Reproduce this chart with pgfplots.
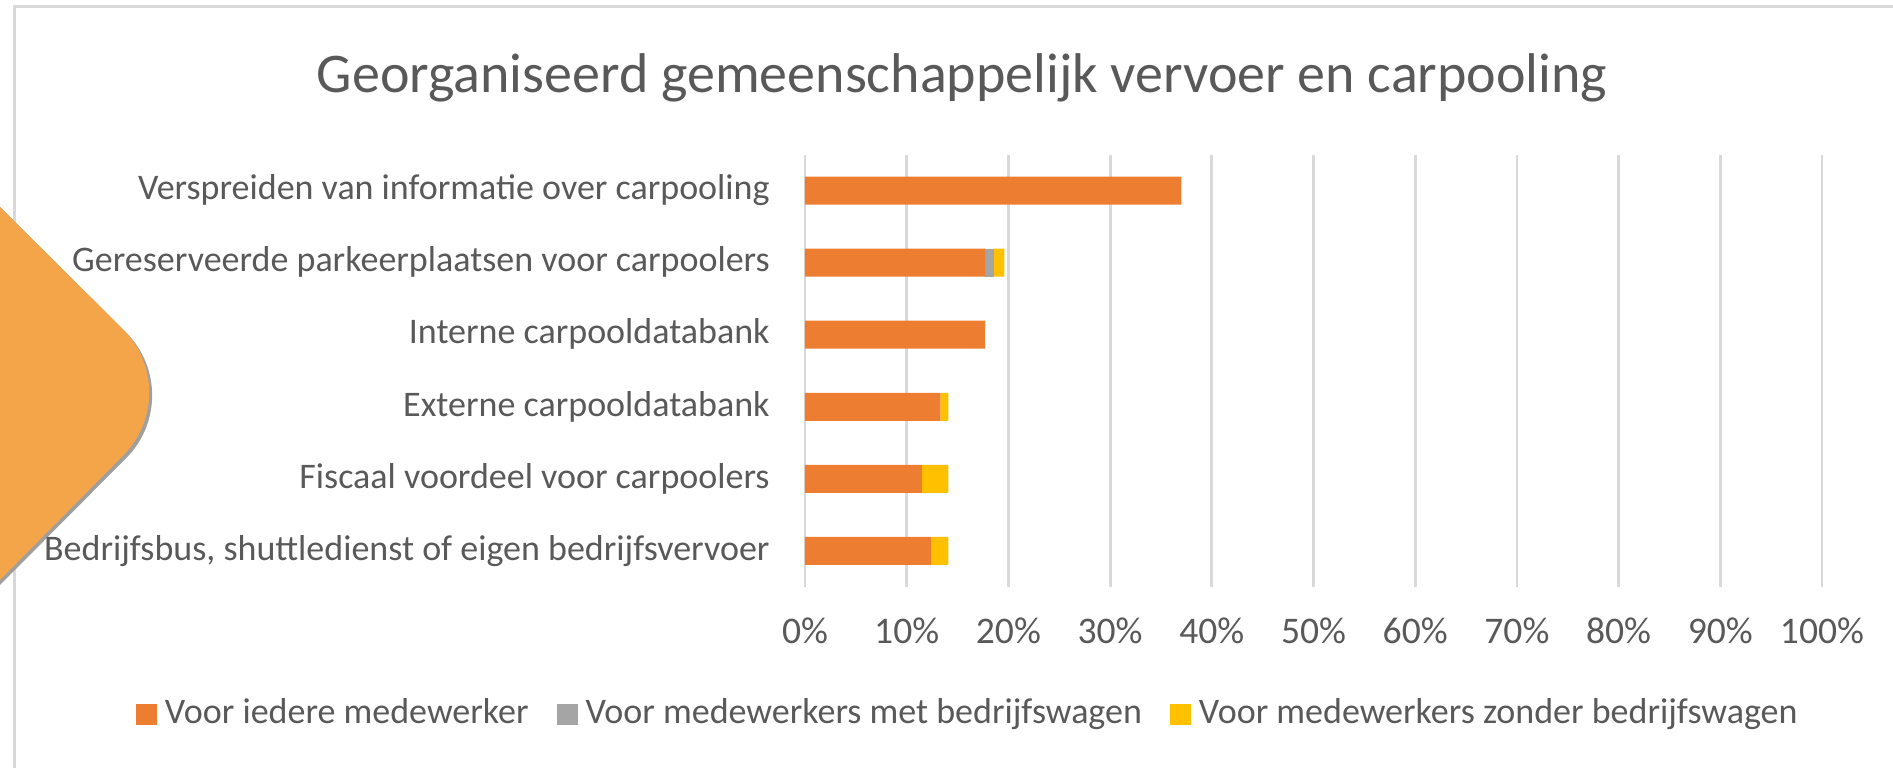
\documentclass[border=0pt]{standalone}
\usepackage{fontspec}
\setmainfont{Carlito}
\usepackage{pgfplots}
\pgfplotsset{compat=1.18}

\definecolor{txt}{HTML}{595959}
\definecolor{gridc}{HTML}{D9D9D9}
\definecolor{s1}{HTML}{ED7D31}
\definecolor{s2}{HTML}{A5A5A5}
\definecolor{s3}{HTML}{FFC000}
\definecolor{blob}{HTML}{F4A54A}

\newcommand{\lab}{\fontsize{18bp}{22bp}\selectfont}

\begin{document}
\begin{tikzpicture}
\useasboundingbox (0,0) rectangle (946.5bp,384bp);
% frame
\draw[gridc, line width=1.5bp] (7.25bp,0) -- (7.25bp,380.75bp) -- (946.5bp,380.75bp);
% decoration shape at the left
\fill[gray!75, rounded corners=44.5bp] (-98.5bp,378.5bp) -- (94.5bp,186.5bp) -- (-98.5bp,-7.5bp) -- cycle;
\fill[blob, rounded corners=44.5bp] (-100bp,380bp) -- (93bp,188bp) -- (-100bp,-7bp) -- cycle;

\node[txt, anchor=base, inner sep=0pt, font=\fontsize{28bp}{32bp}\selectfont] at (481bp,337.6bp)
  {Georganiseerd gemeenschappelijk vervoer en carpooling};

\begin{axis}[
  at={(402.5bp,90.5bp)}, anchor=south west,
  scale only axis, width=508.5bp, height=216.25bp,
  xbar stacked, bar width=14bp,
  xmin=0, xmax=100,
  ymin=-0.5, ymax=5.5, y dir=reverse,
  xtick={0,10,...,100},
  xticklabels={0\%,10\%,20\%,30\%,40\%,50\%,60\%,70\%,80\%,90\%,100\%},
  ytick={0,...,5},
  yticklabels={Verspreiden van informatie over carpooling,
    Gereserveerde parkeerplaatsen voor carpoolers,
    Interne carpooldatabank,
    Externe carpooldatabank,
    Fiscaal voordeel voor carpoolers,
    {Bedrijfsbus, shuttledienst of eigen bedrijfsvervoer}},
  axis line style={draw=none},
  major tick length=0pt,
  xmajorgrids, grid style={gridc, line width=1.4bp},
  xticklabel style={txt, font=\fontsize{18.8bp}{22bp}\selectfont, anchor=base, inner sep=0pt, yshift=-28bp},
  yticklabel style={txt, font=\lab, anchor=base east, inner sep=0pt, xshift=-17.5bp, yshift=-4.6bp},
  legend columns=3,
  legend style={draw=none, at={(0.159,-0.289)}, anchor=center, font=\lab, text=txt,
    /tikz/every odd column/.append style={column sep=4bp},
    /tikz/every even column/.append style={column sep=14bp},
    nodes={inner sep=0pt, anchor=base west}},
  legend image code/.code={\fill[#1] (0bp,-1bp) rectangle (10.5bp,9.5bp);},
]
\addplot[fill=s1, draw=none] coordinates {(37.0,0) (17.7,1) (17.7,2) (13.3,3) (11.5,4) (12.4,5)};
\addplot[fill=s2, draw=none] coordinates {(0,0) (0.9,1) (0,2) (0,3) (0,4) (0,5)};
\addplot[fill=s3, draw=none] coordinates {(0,0) (1.0,1) (0,2) (0.8,3) (2.6,4) (1.7,5)};
\legend{Voor iedere medewerker, Voor medewerkers met bedrijfswagen, Voor medewerkers zonder bedrijfswagen}
\end{axis}
\end{tikzpicture}
\end{document}
